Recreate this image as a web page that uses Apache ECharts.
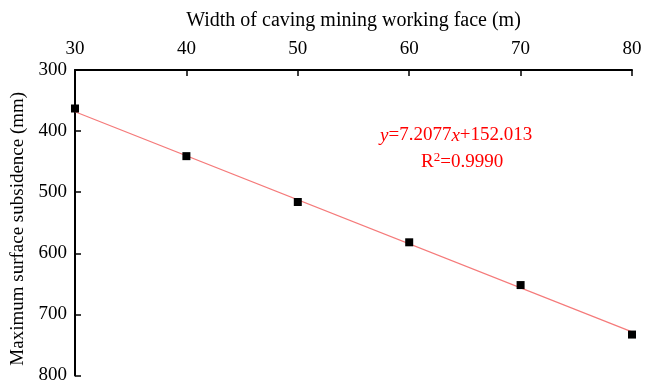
<!DOCTYPE html>
<html>
<head>
<meta charset="utf-8">
<style>
  html, body { margin: 0; padding: 0; background: #fff; }
  #chart { width: 646px; height: 385px; }
</style>
<script src="https://cdn.jsdelivr.net/npm/echarts@6/dist/echarts.min.js"></script>
</head>
<body>
<div id="chart"></div>
<script>
// Face width (m) and measured maximum surface subsidence (mm)
const widths = [30, 40, 50, 60, 70, 80];
const subsidence = [363, 441, 516, 582, 652, 733];

// Linear fit reported on the chart
const fitSlope = 7.2077;
const fitIntercept = 152.013;
const fitR2 = '0.9990';

const xTicks = [30, 40, 50, 60, 70, 80];
const yTicks = [300, 400, 500, 600, 700, 800];

const font = '"Liberation Serif", "Times New Roman", serif';

const fitLine = [widths[0], widths[widths.length - 1]].map(w => [w, fitSlope * w + fitIntercept]);

const chart = echarts.init(document.getElementById('chart'), null, { renderer: 'canvas' });
chart.setOption({
  animation: false,
  backgroundColor: '#fff',
  grid: { left: 75, right: 14, top: 70, bottom: 7, containLabel: false },
  xAxis: {
    type: 'value',
    position: 'top',
    min: xTicks[0], max: xTicks[xTicks.length - 1], interval: 10,
    name: 'Width of caving mining working face (m)',
    nameLocation: 'middle',
    nameGap: 39,
    nameTextStyle: { fontFamily: font, fontSize: 20, color: '#000' },
    axisLine: { show: true, lineStyle: { color: '#000', width: 2 } },
    axisTick: { show: true, inside: true, length: 6, lineStyle: { color: '#000', width: 1.5 } },
    axisLabel: { fontFamily: font, fontSize: 19, color: '#000', margin: 11 },
    splitLine: { show: false }
  },
  yAxis: {
    type: 'value',
    inverse: true,
    min: yTicks[0], max: yTicks[yTicks.length - 1], interval: 100,
    name: 'Maximum surface subsidence (mm)',
    nameLocation: 'middle',
    nameGap: 47,
    nameRotate: 90,
    nameTextStyle: { fontFamily: font, fontSize: 19, color: '#000', padding: [0, 12, 0, 0] },
    axisLine: { show: true, lineStyle: { color: '#000', width: 2 } },
    axisTick: { show: true, inside: true, length: 6, lineStyle: { color: '#000', width: 1.5 } },
    axisLabel: { fontFamily: font, fontSize: 19, color: '#000', margin: 8 },
    splitLine: { show: false }
  },
  series: [
    {
      type: 'line',
      data: fitLine,
      symbol: 'none',
      lineStyle: { color: '#f57a7a', width: 1.2 },
      z: 2
    },
    {
      type: 'scatter',
      data: widths.map((w, i) => [w, subsidence[i]]),
      symbol: 'rect',
      symbolSize: 8,
      itemStyle: { color: '#000', opacity: 1 },
      z: 3
    }
  ],
  graphic: [
    {
      type: 'text',
      left: 380, top: 126,
      style: {
        text: '{i|y}=7.2077{i|x}+152.013',
        font: '19px ' + font,
        fill: '#f00',
        rich: { i: { fontStyle: 'italic', fontFamily: font, fontSize: 19, fill: '#f00', color: '#f00' } }
      }
    },
    {
      type: 'text',
      left: 421, top: 151,
      style: {
        text: 'R{s|2}=' + fitR2,
        font: '19px ' + font,
        fill: '#f00',
        rich: { s: { fontFamily: font, fontSize: 13, fill: '#f00', color: '#f00', verticalAlign: 'top', padding: [0, 0, 9, 0] } }
      }
    }
  ]
});
</script>
</body>
</html>
